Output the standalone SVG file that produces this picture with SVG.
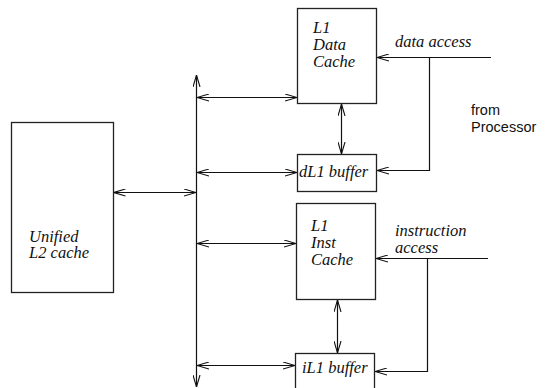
<svg xmlns="http://www.w3.org/2000/svg" width="548" height="388" viewBox="0 0 548 388">
<style>
.box{fill:#fff;stroke:#222;stroke-width:1.3}
.ln{fill:none;stroke:#111;stroke-width:1.2}
.it{font-family:"Liberation Serif",serif;font-style:italic;font-size:16.5px;fill:#111}
.sn{font-family:"Liberation Sans",sans-serif;font-size:14.5px;fill:#111}
</style>
<defs>
<marker id="ah" viewBox="0 0 12 8" refX="12" refY="4" markerWidth="12" markerHeight="8" markerUnits="userSpaceOnUse" orient="auto-start-reverse">
<path d="M0,0.5 L12,4 L0,7.5" fill="none" stroke="#111" stroke-width="1.1"/>
</marker>
</defs>
<rect width="548" height="388" fill="#fff"/>
<g id="l2">
<rect class="box" x="11.5" y="122.5" width="102" height="170"/>
<text class="it" x="29" y="242">Unified</text>
<text class="it" x="29" y="258">L2 cache</text>
</g>
<g id="l1data">
<rect class="box" x="297.5" y="8.5" width="79" height="95"/>
<text class="it" x="313" y="33">L1</text>
<text class="it" x="313" y="50">Data</text>
<text class="it" x="313" y="67">Cache</text>
</g>
<g id="dl1buf">
<rect class="box" x="297.5" y="154.5" width="79" height="37"/>
<text class="it" x="299" y="177">dL1 buffer</text>
</g>
<g id="l1inst">
<rect class="box" x="296.5" y="203.5" width="79" height="96"/>
<text class="it" x="311" y="231">L1</text>
<text class="it" x="311" y="248">Inst</text>
<text class="it" x="311" y="265">Cache</text>
</g>
<g id="il1buf">
<rect class="box" x="295.5" y="353.5" width="79" height="40"/>
<text class="it" x="302" y="373">iL1 buffer</text>
</g>
<g id="labels">
<text class="it" x="395" y="47">data access</text>
<text class="it" x="395" y="236">instruction</text>
<text class="it" x="395" y="253">access</text>
<text class="sn" x="471" y="115">from</text>
<text class="sn" x="471" y="132">Processor</text>
</g>
<g id="connectors">
<line class="ln" x1="196.5" y1="387" x2="196.5" y2="75" marker-start="url(#ah)" marker-end="url(#ah)"/>
<line class="ln" x1="113.5" y1="192.5" x2="196" y2="192.5" marker-start="url(#ah)" marker-end="url(#ah)"/>
<line class="ln" x1="197" y1="97.5" x2="297" y2="97.5" marker-start="url(#ah)" marker-end="url(#ah)"/>
<line class="ln" x1="197" y1="172.5" x2="297" y2="172.5" marker-start="url(#ah)" marker-end="url(#ah)"/>
<line class="ln" x1="197" y1="243.5" x2="296" y2="243.5" marker-start="url(#ah)" marker-end="url(#ah)"/>
<line class="ln" x1="197" y1="365.5" x2="295" y2="365.5" marker-start="url(#ah)" marker-end="url(#ah)"/>
<line class="ln" x1="341.5" y1="104" x2="341.5" y2="154" marker-start="url(#ah)" marker-end="url(#ah)"/>
<line class="ln" x1="337.5" y1="300" x2="337.5" y2="353" marker-start="url(#ah)" marker-end="url(#ah)"/>
<line class="ln" x1="491" y1="57.5" x2="377" y2="57.5" marker-end="url(#ah)"/>
<polyline class="ln" points="429.5,57.5 429.5,170.5 377,170.5" marker-end="url(#ah)"/>
<line class="ln" x1="488" y1="258.5" x2="376" y2="258.5" marker-end="url(#ah)"/>
<polyline class="ln" points="427.5,258.5 427.5,371.5 375,371.5" marker-end="url(#ah)"/>
</g>
</svg>
